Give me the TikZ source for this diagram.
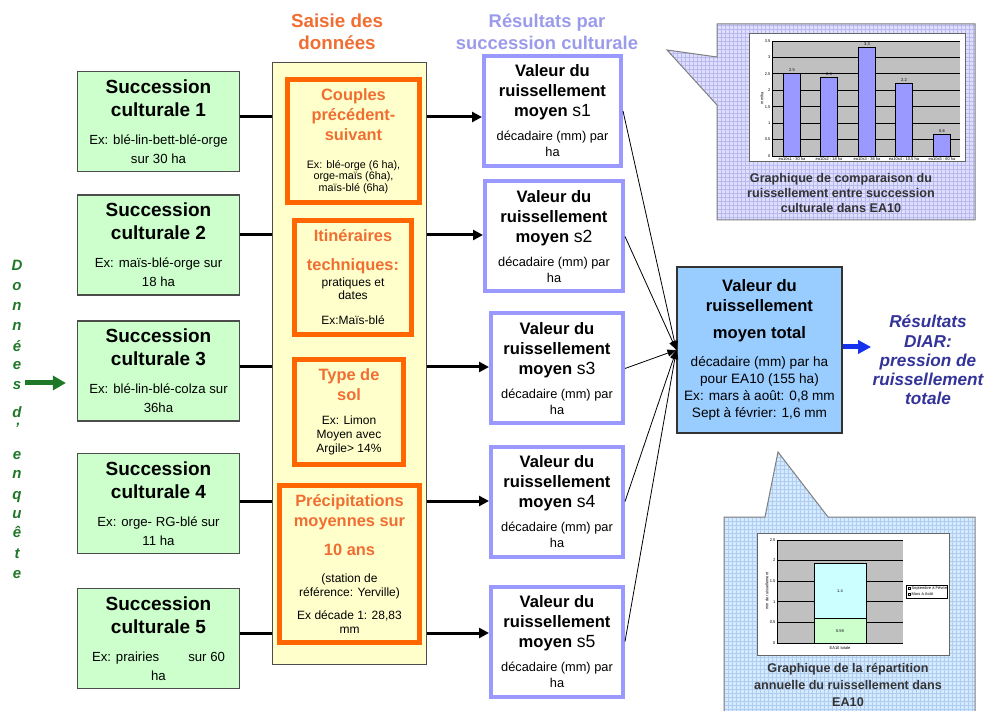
\documentclass[tikz,border=0pt]{standalone}
\usepackage{fontspec}
\setmainfont{Liberation Sans}
\usetikzlibrary{arrows.meta}

% Couleurs
\definecolor{vertclair}{RGB}{204,255,204}
\definecolor{vertfonce}{RGB}{30,120,40}
\definecolor{jaunepale}{RGB}{255,255,204}
\definecolor{orangebord}{RGB}{255,102,0}
\definecolor{orangetexte}{RGB}{240,110,50}
\definecolor{lavande}{RGB}{153,153,255}
\definecolor{lavandetexte}{RGB}{155,155,235}
\definecolor{bleutotal}{RGB}{153,204,255}
\definecolor{bleudiar}{RGB}{51,51,153}
\definecolor{bleufleche}{RGB}{20,50,240}
\definecolor{fondbulleA}{RGB}{222,222,255}
\definecolor{grilleA}{RGB}{185,185,240}
\definecolor{fondbulleB}{RGB}{214,234,255}
\definecolor{grilleB}{RGB}{175,205,240}
\definecolor{barre}{RGB}{153,153,255}
\definecolor{cyanpale}{RGB}{204,255,255}
\definecolor{gristrace}{RGB}{192,192,192}

% Polices
\newcommand{\ftitre}{\fontsize{9.5}{11.5}\selectfont\bfseries}
\newcommand{\fres}{\fontsize{8.3}{10}\selectfont\bfseries}
\newcommand{\fsaisie}{\fontsize{8.2}{10}\selectfont\bfseries\color{orangetexte}}
\newcommand{\fpetit}{\fontsize{6.6}{9.5}\selectfont}
\newcommand{\fdeca}{\fontsize{6.4}{8}\selectfont}
\newcommand{\ftot}{\fontsize{6.8}{8.4}\selectfont}
\newcommand{\fmini}{\fontsize{6}{7}\selectfont}
\newcommand{\fmicro}{\fontsize{5.4}{5.8}\selectfont}
\newcommand{\fgraph}{\fontsize{2}{2.4}\selectfont}

\tikzset{
    succ/.style={draw=black!70, line width=0.6pt, fill=vertclair, minimum width=81pt,
        minimum height=50pt, text width=80pt, align=flush center, inner sep=0pt},
    saisie/.style={draw=orangebord, line width=2.5pt, fill=jaunepale, align=flush center, inner sep=0pt},
    resul/.style={draw=lavande, line width=2pt, fill=white, minimum height=55pt,
        text width=64pt, align=flush center, inner sep=0pt},
    legende/.style={text width=120pt, align=flush center, inner sep=0pt, text=black!80,
        font=\fontsize{6.3}{7.5}\selectfont\bfseries},
    trait/.style={line width=1.5pt},
    fleche/.style={line width=1.5pt, -{Triangle[length=5pt,width=5pt]}},
    fin/.style={line width=0.4pt, -{Triangle[length=4.5pt,width=3.5pt]}},
    lettre/.style={anchor=base, font=\fontsize{7.5}{9}\selectfont\bfseries\itshape,
        text=vertfonce, inner sep=0pt},
    minitexte/.style={font=\fgraph, inner sep=0.6pt},
}

\begin{document}
\begin{tikzpicture}[x=0.5pt,y=-0.5pt]
    \useasboundingbox (0,0) rectangle (986,711);

    % Bulles quadrillees des graphiques
    \def\bulleA{(717,24) -- (975,24) -- (975,220) -- (717,220) -- (717,105) -- (667,50) -- (717,57) -- cycle}
    \def\bulleB{(724,517) -- (765,517) -- (778,452) -- (828,517) -- (975,517) -- (975,716) -- (724,716) -- cycle}
    \begin{scope}
        \clip \bulleA;
        \fill[fondbulleA] (660,20) rectangle (980,225);
        \draw[grilleA, line width=0.2pt] \foreach \gx in {661,665,...,978} {(\gx,20) -- (\gx,225)}
            \foreach \gy in {21,25,...,225} {(660,\gy) -- (980,\gy)};
    \end{scope}
    \draw[black!50, line width=0.5pt] \bulleA;
    \begin{scope}
        \clip \bulleB;
        \fill[fondbulleB] (720,450) rectangle (980,716);
        \draw[grilleB, line width=0.2pt] \foreach \gx in {724,728,...,978} {(\gx,450) -- (\gx,716)}
            \foreach \gy in {453,457,...,716} {(720,\gy) -- (980,\gy)};
    \end{scope}
    \draw[black!50, line width=0.5pt] \bulleB;

    % Graphique 1 : comparaison des successions
    \def\yzero{156} \def\yun{32.86}
    \filldraw[fill=white, draw=black!60, line width=0.3pt] (749,33) rectangle (965,161);
    \fill[gristrace] (772,41) rectangle (960,156);
    \foreach \v [count=\k] in {0,0.5,1,1.5,2,2.5,3,3.5} {
        \draw[line width=0.4pt] (772,{\yzero-\v*\yun}) -- (960,{\yzero-\v*\yun});
        \node[minitexte, anchor=east] (axeA\k) at (772,{\yzero-\v*\yun}) {\v};
    }
    \draw[line width=0.3pt] (772,41) -- (772,156);
    \node[minitexte, rotate=90] (uniteA) at (762,98) {mm/ha};
    \foreach \xc/\h/\lab/\nom [count=\k] in {792/2.52/2.5/ea10s1 - 30 ha, 829/2.4/2.4/ea10s2 - 18 ha,
        867/3.32/3.3/ea10s3 - 36 ha, 904/2.22/2.2/ea10s4 - 10.5 ha, 942/0.67/0.6/ea10s5 - 60 ha} {
        \filldraw[fill=barre, draw=black, line width=0.3pt] (\xc-8.5,\yzero) rectangle (\xc+8.5,{\yzero-\h*\yun});
        \node[minitexte, anchor=south] (valA\k) at (\xc,{\yzero-\h*\yun}) {\lab};
        \node[minitexte, anchor=north] (nomA\k) at (\xc,\yzero) {\nom};
    }
    \node[legende] (legA) at (841,193) {Graphique de comparaison du\\ruissellement entre succession\\culturale dans EA10};

    % Graphique 2 : repartition annuelle
    \def\yzeroB{643} \def\yunB{41.2}
    \filldraw[fill=white, draw=black!60, line width=0.3pt] (757,533) rectangle (949,655);
    \fill[gristrace] (777,540) rectangle (903,643);
    \foreach \v [count=\k] in {0,0.5,1,1.5,2,2.5} {
        \draw[line width=0.4pt] (777,{\yzeroB-\v*\yunB}) -- (903,{\yzeroB-\v*\yunB});
        \node[minitexte, anchor=east] (axeB\k) at (777,{\yzeroB-\v*\yunB}) {\v};
    }
    \draw[line width=0.3pt] (777,540) -- (777,643);
    \filldraw[fill=vertclair, draw=black, line width=0.3pt] (814,\yzeroB) rectangle (866,{\yzeroB-0.59*\yunB});
    \filldraw[fill=cyanpale, draw=black, line width=0.3pt] (814,{\yzeroB-0.59*\yunB}) rectangle (866,{\yzeroB-1.93*\yunB});
    \node[minitexte] (valB1) at (840,{\yzeroB-0.3*\yunB}) {0.59};
    \node[minitexte] (valB2) at (840,{\yzeroB-1.26*\yunB}) {1.4};
    \node[minitexte, anchor=north] (nomB) at (840,645) {EA10 totale};
    \node[minitexte, rotate=90] (uniteB) at (767,591) {mm de ruissellement};
    \filldraw[fill=white, draw=black, line width=0.3pt] (906,585) rectangle (947,598);
    \filldraw[fill=cyanpale, draw=black, line width=0.2pt] (908,589) rectangle (910,587);
    \filldraw[fill=vertclair, draw=black, line width=0.2pt] (908,595) rectangle (910,593);
    \node[minitexte, anchor=west] (legB1) at (910,588) {Septembre à Février};
    \node[minitexte, anchor=west] (legB2) at (910,594) {Mars à Août};
    \node[legende, font=\fontsize{6.3}{8.5}\selectfont\bfseries] (legB) at (848,685) {Graphique de la répartition\\annuelle du ruissellement dans\\EA10};

    % Titres des colonnes
    \node[align=center, font=\fontsize{9.4}{11}\selectfont\bfseries, text=orangetexte] (titresaisie) at (337,32) {Saisie des\\données};
    \node[align=center, font=\fontsize{9.2}{11}\selectfont\bfseries, text=lavandetexte] (titreres) at (547,32) {Résultats par\\succession culturale};

    % Donnees d'enquete (texte vertical)
    \foreach \l/\y [count=\k] in {D/271, o/291, n/311, n/331, é/351, e/370, s/390, d/417, ’/433,
        e/459, n/479, q/499, u/518, ê/538, t/558, e/578}
        \node[lettre] (lettre\k) at (17,\y) {\l};

    % Successions culturales
    \foreach \i/\y/\ex in {1/121.5/{Ex: blé-lin-bett-blé-orge\\sur 30 ha}, 2/245/{Ex: maïs-blé-orge sur\\18 ha},
        3/371/{Ex: blé-lin-blé-colza sur\\36ha}, 4/503.5/{Ex: orge- RG-blé sur\\11 ha},
        5/638.5/{Ex: prairies\hspace{2.2em}sur 60\\ha}}
        \node[succ] (succ\i) at (158.5,\y) {{\ftitre Succession\\culturale \i\endgraf}\vspace{4.5pt}{\fpetit \ex\endgraf}};

    % Saisie des donnees
    \node[draw=black!70, line width=0.5pt, fill=jaunepale, minimum width=77pt, minimum height=301pt,
        inner sep=0pt] (colonne) at (349.5,363.5) {};
    \node[saisie, minimum width=66pt, minimum height=61.5pt, text width=62pt] (couples) at (353.5,141)
        {{\fsaisie Couples\\précédent-\\suivant\par}\vspace{8pt}{\fmicro Ex: blé-orge (6 ha),\\orge-maïs (6ha),\\maïs-blé (6ha)\par}};
    \node[saisie, minimum width=58.5pt, minimum height=57pt, text width=56pt] (itineraires) at (353,277.5)
        {{\fsaisie Itinéraires\\[4.5pt]techniques:\par}\vspace{1.5pt}{\fontsize{6}{6.5}\selectfont pratiques et\\dates\par}\vspace{5.5pt}{\fmini Ex:Maïs-blé\par}};
    \node[saisie, minimum width=54.5pt, minimum height=52.5pt, text width=52pt] (sol) at (349,412)
        {{\fsaisie Type de\\sol\par}\vspace{5pt}{\fmini Ex: Limon\\Moyen avec\\Argile> 14\%\par}};
    \node[saisie, minimum width=70pt, minimum height=78.5pt, text width=68pt] (precipitations) at (349.5,564)
        {{\fsaisie Précipitations\\moyennes sur\\[4.5pt]10 ans\par}\vspace{6.3pt}{\fmini (station de\\référence: Yerville)\par}\vspace{4.5pt}{\fmini Ex décade 1: 28,83\\mm\par}};

    % Resultats par succession
    \foreach \i/\x/\y/\w in {1/552.5/111/68.5, 2/554/236.5/69, 3/557/368.5/66, 4/557/501.5/66, 5/557/641.5/66}
        \node[resul, minimum width=\w pt] (res\i) at (\x,\y)
            {{\fres Valeur du\\ruissellement\\moyen {\mdseries\fontsize{8.8}{10}\selectfont s\i}\endgraf}\vspace{4pt}{\fdeca décadaire (mm) par\\ha\endgraf}};

    % Ruissellement total
    \node[draw=black!80, line width=0.6pt, fill=bleutotal, minimum width=82.5pt, minimum height=83pt,
        text width=81pt, align=flush center, inner sep=0pt] (total) at (759.5,350)
        {{\fres Valeur du\\ruissellement\par}\vspace{3.5pt}{\fres moyen total\par}\vspace{5.6pt}{\ftot décadaire (mm) par ha\\pour EA10 (155 ha)\\Ex: mars à août: 0,8 mm\\Sept à février: 1,6 mm\par}};
    \node[align=center, inner sep=0pt, font=\fontsize{8.6}{9.6}\selectfont\bfseries\itshape, text=bleudiar] (diar) at (928,360)
        {Résultats\\DIAR:\\pression de\\ruissellement\\totale};

    % Liaisons
    \foreach \i/\dy in {1/2.25, 2/5, 3/2, 4/1.25, 5/2.75} {
        \coordinate (dep\i) at ([yshift=\dy pt]succ\i.east);
        \draw[trait] (dep\i) -- (dep\i -| colonne.west);
        \draw[fleche] (dep\i -| colonne.east) -- (dep\i -| res\i.west);
        \draw[fin] (res\i.east) -- (total.west);
    }
    \draw[line width=2.5pt, bleufleche, -{Triangle[length=6.5pt,width=6.5pt]}, shorten >=0.5pt]
        ([yshift=1.5pt]total.east) -- ([yshift=1.5pt]total.east -| diar.west);
    \coordinate (enquete) at (25,383);
    \draw[line width=2.5pt, vertfonce, -{Triangle[length=6.5pt,width=7pt]}, shorten >=5.5pt]
        (enquete) -- (enquete -| succ3.west);
\end{tikzpicture}
\end{document}
